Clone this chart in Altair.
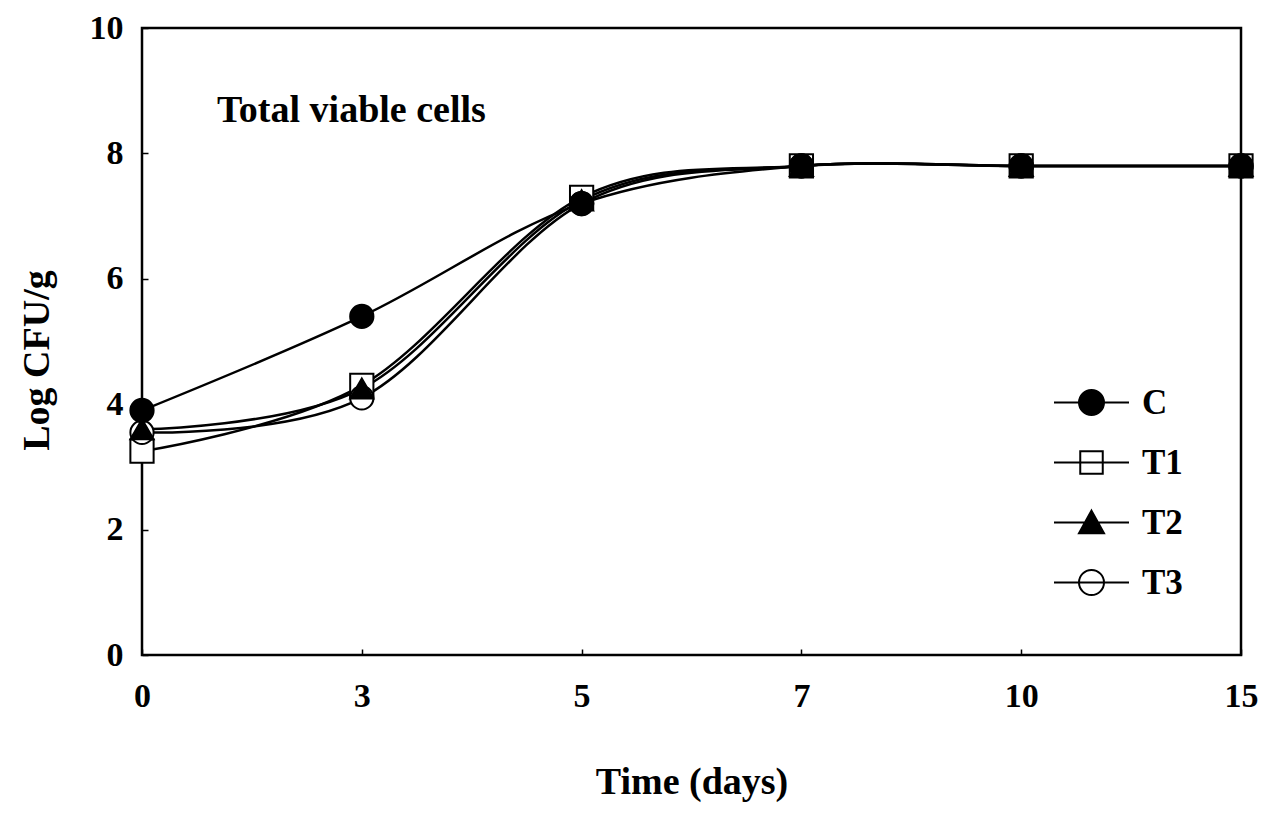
import altair as alt
import pandas as pd

days = ["0", "3", "5", "7", "10", "15"]
series = ["C", "T1", "T2", "T3"]
C = [3.9, 5.4, 7.2, 7.8, 7.8, 7.8]
T1 = [3.25, 4.3, 7.3, 7.8, 7.8, 7.8]
T2 = [3.6, 4.25, 7.25, 7.8, 7.8, 7.8]
T3 = [3.55, 4.1, 7.2, 7.8, 7.8, 7.8]
y_ticks = [0, 2, 4, 6, 8, 10]
annotation = "Total viable cells"

values = {"C": C, "T1": T1, "T2": T2, "T3": T3}
draw_order = ["T1", "T3", "T2", "C"]
rows = []
for name in draw_order:
    for d, v in zip(days, values[name]):
        rows.append({"day": d, "value": v, "series": name})
df = pd.DataFrame(rows)

FONT = "Liberation Serif"
plot_shapes = ["circle", "square", "triangle-up", "circle"]
legend_shapes = [
    "M-3,0L3,0M-1,0A1,1,0,1,0,1,0A1,1,0,1,0,-1,0Z",
    "M-3,0L3,0M-0.9,-0.9L0.9,-0.9L0.9,0.9L-0.9,0.9Z",
    "M-3,0L3,0M0,-0.95L1,0.85L-1,0.85Z",
    "M-3,0L3,0M-1,0A1,1,0,1,0,1,0A1,1,0,1,0,-1,0Z",
]
fills = ["black", "white", "black", "white"]
strokes = ["black", "black", "black", "black"]

x_enc = alt.X(
    "day:O", sort=days, scale=alt.Scale(padding=0),
    axis=alt.Axis(title="Time (days)", labelAngle=0, domain=False, grid=False,
                  tickSize=6, offset=-6, labelPadding=24, titlePadding=50),
)
y_enc = alt.Y(
    "value:Q", scale=alt.Scale(domain=[0, 10], nice=False),
    axis=alt.Axis(title="Log CFU/g", values=y_ticks, domain=False, grid=False,
                  tickSize=6, offset=-6, labelPadding=19, titleX=-92, titleY=332),
)

lines = alt.Chart(df).mark_line(interpolate="cardinal", color="black", strokeWidth=2.5).encode(
    x=x_enc, y=y_enc, detail="series:N"
)

points = alt.Chart(df).mark_point(filled=True, size=540, stroke="black", strokeWidth=2, opacity=1).encode(
    x=x_enc, y=y_enc,
    shape=alt.Shape("series:N", scale=alt.Scale(domain=series, range=plot_shapes), legend=None),
    fill=alt.Fill("series:N", scale=alt.Scale(domain=series, range=fills), legend=None),
)

leg = alt.Legend(
    title=None, orient="none", legendX=932, legendY=357, symbolSize=625,
    labelFont=FONT, labelFontSize=35, labelFontWeight="bold", labelColor="black",
    labelOffset=33, rowPadding=24, padding=0,
    symbolStrokeColor="black", symbolStrokeWidth=2, symbolOpacity=1,
)

legend_layer = alt.Chart(df).transform_filter("false").mark_point(
    filled=True, size=625, strokeWidth=2, opacity=1
).encode(
    x=x_enc, y=y_enc,
    shape=alt.Shape("series:N", scale=alt.Scale(domain=series, range=legend_shapes), legend=leg),
    fill=alt.Fill("series:N", scale=alt.Scale(domain=series, range=fills), legend=leg),
    stroke=alt.Stroke("series:N", scale=alt.Scale(domain=series, range=strokes), legend=leg),
)

text = alt.Chart(pd.DataFrame({"t": [annotation]})).mark_text(
    font=FONT, fontSize=38, fontWeight="bold", align="left", baseline="alphabetic", color="black"
).encode(x=alt.value(75), y=alt.value(94), text="t:N")

chart = alt.layer(lines, points, legend_layer, text).resolve_scale(
    shape="independent", fill="independent", stroke="independent"
).properties(
    width=1099, height=627,
    autosize=alt.AutoSizeParams(type="none"),
    padding={"left": 134, "top": 20, "right": 20, "bottom": 148},
).configure_view(
    stroke="black", strokeWidth=2.5
).configure_axis(
    labelFont=FONT, labelFontSize=34, labelFontWeight="bold", labelColor="black",
    titleFont=FONT, titleFontSize=38, titleFontWeight="bold", titleColor="black",
    tickColor="black", tickWidth=1.5,
)

chart.save("out.html", embed_options={"renderer": "svg", "actions": False})
